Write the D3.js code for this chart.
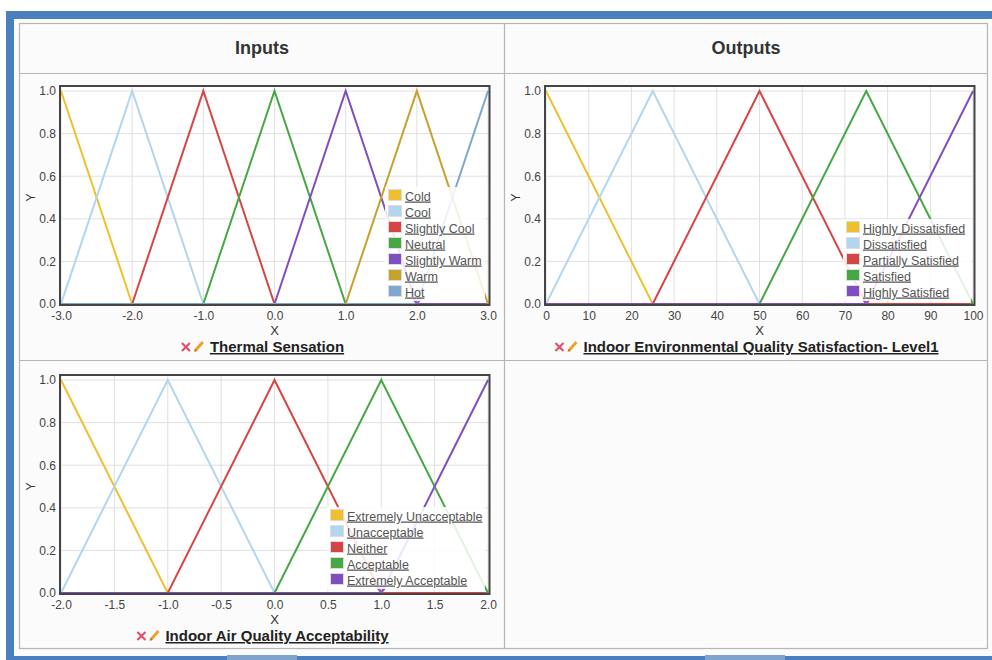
<!DOCTYPE html>
<html><head><meta charset="utf-8">
<script src="https://cdn.jsdelivr.net/npm/d3@7"></script>
<style>
html,body{margin:0;padding:0;background:#fff;}
svg{display:block;font-family:"Liberation Sans",Arial,sans-serif;}
</style></head>
<body><svg id="c" width="992" height="660"></svg>
<script>
// ---- Data ----
const headers = ["Inputs", "Outputs"];

const thermalTitle = "Thermal Sensation";
const thermalTicks = [-3, -2, -1, 0, 1, 2, 3];
const thermalNames = ["Cold", "Cool", "Slightly Cool", "Neutral", "Slightly Warm", "Warm", "Hot"];
const thermalColors = ["#f0c02c", "#b3d6f0", "#d64545", "#45a845", "#7f4fc0", "#c8a02c", "#7ea7d0"];
const thermalPoints = [
  [[-3, 1], [-2, 0], [3, 0]],
  [[-3, 0], [-2, 1], [-1, 0], [3, 0]],
  [[-3, 0], [-2, 0], [-1, 1], [0, 0], [3, 0]],
  [[-3, 0], [-1, 0], [0, 1], [1, 0], [3, 0]],
  [[-3, 0], [0, 0], [1, 1], [2, 0], [3, 0]],
  [[-3, 0], [1, 0], [2, 1], [3, 0]],
  [[-3, 0], [2, 0], [3, 1]]
];
const thermalMarker = 2;

const ieqTitle = "Indoor Environmental Quality Satisfaction- Level1";
const ieqTicks = [0, 10, 20, 30, 40, 50, 60, 70, 80, 90, 100];
const ieqNames = ["Highly Dissatisfied", "Dissatisfied", "Partially Satisfied", "Satisfied", "Highly Satisfied"];
const ieqColors = ["#f0c02c", "#b3d6f0", "#d64545", "#45a845", "#7f4fc0"];
const ieqPoints = [
  [[0, 1], [25, 0], [100, 0]],
  [[0, 0], [25, 1], [50, 0], [100, 0]],
  [[0, 0], [25, 0], [50, 1], [75, 0], [100, 0]],
  [[0, 0], [50, 0], [75, 1], [100, 0]],
  [[0, 0], [75, 0], [100, 1]]
];
const ieqMarker = 75;

const iaqTitle = "Indoor Air Quality Acceptability";
const iaqTicks = [-2, -1.5, -1, -0.5, 0, 0.5, 1, 1.5, 2];
const iaqNames = ["Extremely Unacceptable", "Unacceptable", "Neither", "Acceptable", "Extremely Acceptable"];
const iaqColors = ["#f0c02c", "#b3d6f0", "#d64545", "#45a845", "#7f4fc0"];
const iaqPoints = [
  [[-2, 1], [-1, 0], [2, 0]],
  [[-2, 0], [-1, 1], [0, 0], [2, 0]],
  [[-2, 0], [-1, 0], [0, 1], [1, 0], [2, 0]],
  [[-2, 0], [0, 0], [1, 1], [2, 0]],
  [[-2, 0], [1, 0], [2, 1]]
];
const iaqMarker = 1;

const yTicks = [0, 0.2, 0.4, 0.6, 0.8, 1.0];

// ---- Drawing ----
const svg = d3.select("#c");
const fmt1 = d => d.toFixed(1);
const fmt0 = d => String(d);
svg.append("rect").attr("x", 6).attr("y", 11).attr("width", 990).attr("height", 660).attr("fill", "#4a80bf");
svg.append("rect").attr("x", 14).attr("y", 19).attr("width", 990).attr("height", 637).attr("fill", "#fbfbfb");
svg.append("rect").attr("x", 227).attr("y", 655).attr("width", 70).attr("height", 6).attr("fill", "#7fa3cf");
svg.append("rect").attr("x", 705).attr("y", 655).attr("width", 80).attr("height", 6).attr("fill", "#7fa3cf");

const tl = svg.append("g").attr("stroke", "#b5b5b5").attr("stroke-width", 1.2).attr("fill", "none");
tl.append("rect").attr("x", 19.5).attr("y", 23.5).attr("width", 968).attr("height", 625);
tl.append("line").attr("x1", 19.5).attr("x2", 987.5).attr("y1", 73.5).attr("y2", 73.5);
tl.append("line").attr("x1", 19.5).attr("x2", 987.5).attr("y1", 360.5).attr("y2", 360.5);
tl.append("line").attr("x1", 504.5).attr("x2", 504.5).attr("y1", 23.5).attr("y2", 648.5);

svg.append("text").attr("x", 262).attr("y", 54).attr("text-anchor", "middle")
  .attr("font-size", 18).attr("font-weight", "bold").attr("fill", "#333").text(headers[0]);
svg.append("text").attr("x", 746).attr("y", 54).attr("text-anchor", "middle")
  .attr("font-size", 18).attr("font-weight", "bold").attr("fill", "#333").text(headers[1]);

function chart(cfg) {
  const g = svg.append("g");
  const x = d3.scaleLinear().domain(cfg.domain).range([cfg.x0, cfg.x1]);
  const y = d3.scaleLinear().domain([0, 1]).range([cfg.yb, cfg.yt]);
  const fl = cfg.x0 - 1, fr = cfg.x1 + 1.5, ft = cfg.yt - 5, fb = cfg.yb + 1;
  g.append("rect").attr("x", fl).attr("y", ft).attr("width", fr - fl).attr("height", fb - ft).attr("fill", "#fff");
  g.append("g").selectAll("line").data(cfg.ticks).join("line")
    .attr("x1", d => x(d)).attr("x2", d => x(d)).attr("y1", ft).attr("y2", fb)
    .attr("stroke", "#e0e0e0").attr("stroke-width", 1);
  g.append("g").selectAll("line").data(yTicks).join("line")
    .attr("x1", fl).attr("x2", fr).attr("y1", d => y(d)).attr("y2", d => y(d))
    .attr("stroke", "#e0e0e0").attr("stroke-width", 1);
  const line = d3.line().x(d => x(d[0])).y(d => y(d[1]));
  cfg.points.forEach((pts, i) => {
    g.append("path").attr("d", line(pts)).attr("fill", "none")
      .attr("stroke", cfg.colors[i]).attr("stroke-width", 2);
  });
  const mx = x(cfg.marker), my = y(0);
  g.append("path").attr("d", `M${mx - 4},${my - 5}L${mx},${my}L${mx + 4},${my - 5}`)
    .attr("fill", "none").attr("stroke", "#8a5cc8").attr("stroke-width", 1.5);
  g.append("rect").attr("x", fl).attr("y", ft).attr("width", fr - fl).attr("height", fb - ft)
    .attr("fill", "none").attr("stroke", "#444").attr("stroke-width", 2);
  const xa = d3.axisBottom(x).tickValues(cfg.ticks).tickFormat(cfg.fmt).tickSize(0).tickPadding(6);
  const ax = g.append("g").attr("transform", `translate(0,${fb})`).call(xa);
  ax.select(".domain").remove();
  ax.selectAll("text").attr("font-size", 12).attr("fill", "#444").attr("font-family", "Liberation Sans, Arial, sans-serif");
  const ya = d3.axisLeft(y).tickValues(yTicks).tickFormat(fmt1).tickSize(0).tickPadding(4);
  const ay = g.append("g").attr("transform", `translate(${fl},0)`).call(ya);
  ay.select(".domain").remove();
  ay.selectAll("text").attr("font-size", 12).attr("fill", "#444").attr("font-family", "Liberation Sans, Arial, sans-serif");
  g.append("text").attr("x", (cfg.x0 + cfg.x1) / 2).attr("y", fb + 30).attr("text-anchor", "middle")
    .attr("font-size", 13).attr("fill", "#333").text("X");
  g.append("text").attr("transform", `translate(${cfg.x0 - 26},${(cfg.yt + cfg.yb) / 2}) rotate(-90)`)
    .attr("text-anchor", "middle").attr("font-size", 12).attr("fill", "#333").text("Y");
  const lg = g.append("g").attr("transform", `translate(${cfg.lx},${cfg.ly})`);
  const lw = cfg.lw, lh = cfg.names.length * 16 + 2;
  lg.append("rect").attr("x", -3).attr("y", -9).attr("width", lw).attr("height", lh)
    .attr("fill", "#fff").attr("fill-opacity", 0.85);
  cfg.names.forEach((n, i) => {
    const r = lg.append("g").attr("transform", `translate(0,${i * 16})`);
    r.append("rect").attr("x", 0.5).attr("y", -6.5).attr("width", 13).attr("height", 11)
      .attr("fill", cfg.colors[i]).attr("stroke", "#ddd").attr("stroke-width", 1);
    r.append("text").attr("x", 17).attr("y", 4.5).attr("font-size", 12.5).attr("fill", "#555")
      .attr("text-decoration", "underline").text(n);
  });
  const tg = g.append("g");
  const tt = tg.append("text").attr("x", 30).attr("y", 0).attr("font-size", 15).attr("font-weight", "bold")
    .attr("fill", "#222").attr("text-decoration", "underline").text(cfg.title);
  tg.append("path").attr("d", "M2,-9L10,-1M10,-9L2,-1").attr("stroke", "#e0506a").attr("stroke-width", 2.2).attr("fill", "none");
  tg.append("path").attr("d", "M15,-1L23,-10").attr("stroke", "#f0a030").attr("stroke-width", 3).attr("fill", "none");
  tg.append("path").attr("d", "M14,0L15.5,-3L17,-1.5Z").attr("fill", "#c07020");
  const w = 30 + tt.node().getComputedTextLength();
  tg.attr("transform", `translate(${cfg.cx - w / 2},${fb + 47})`);
}

chart({domain: [-3, 3], ticks: thermalTicks, fmt: fmt1, x0: 61, x1: 488, yt: 91, yb: 304,
  points: thermalPoints, colors: thermalColors, names: thermalNames, marker: thermalMarker,
  lx: 388, ly: 196, lw: 100, title: thermalTitle, cx: 262});
chart({domain: [0, 100], ticks: ieqTicks, fmt: fmt0, x0: 546, x1: 973, yt: 91, yb: 304,
  points: ieqPoints, colors: ieqColors, names: ieqNames, marker: ieqMarker,
  lx: 846, ly: 228, lw: 128, title: ieqTitle, cx: 746});
chart({domain: [-2, 2], ticks: iaqTicks, fmt: fmt1, x0: 61, x1: 488, yt: 380, yb: 593,
  points: iaqPoints, colors: iaqColors, names: iaqNames, marker: iaqMarker,
  lx: 330, ly: 516, lw: 158, title: iaqTitle, cx: 262});
</script></body></html>
